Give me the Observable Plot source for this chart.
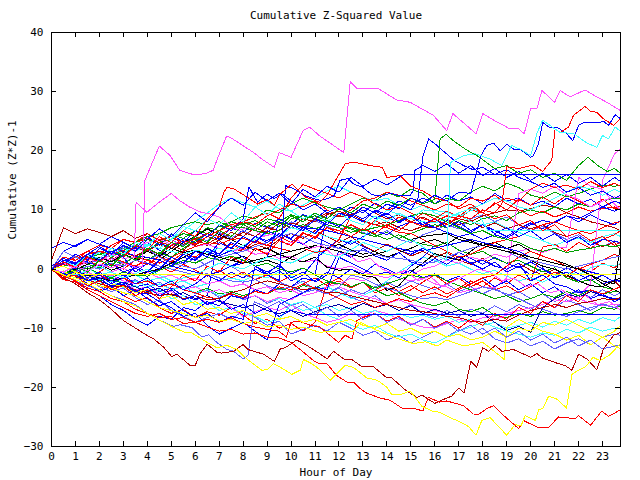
<!DOCTYPE html>
<html><head><meta charset="utf-8">
<script src="https://cdn.jsdelivr.net/npm/d3@7"></script>
<script src="https://cdn.jsdelivr.net/npm/@observablehq/plot@0.6"></script>
<style>body{margin:0;background:#fff} svg{shape-rendering:crispEdges}</style>
</head><body><div id="chart"></div>
<script>
const title = "Cumulative Z-Squared Value";
const xLabel = "Hour of Day";
const yLabel = "Cumulative (Z*Z)-1";
const xTicks = [0,1,2,3,4,5,6,7,8,9,10,11,12,13,14,15,16,17,18,19,20,21,22,23];
const yTicks = [-30,-20,-10,0,10,20,30,40];

// ---- traced series: [hour, value] ----
const magentaTop = [[0,0],[0.5,-0.5],[1,0.5],[1.5,-0.3],[2,0.8],[2.5,0.2],[3,1],[3.5,0.3],[3.8,0.5],[3.9,15],[4.25,18.4],[4.5,20.8],[4.95,19.2],[5.35,16.7],[5.9,16],[6.4,16.1],[6.75,16.7],[6.9,18.4],[7.3,22.4],[7.45,22.3],[8.4,19.8],[8.85,18.4],[9.3,17.2],[9.5,19.7],[10,18.9],[10.5,23.4],[10.77,24],[11.2,22.5],[12.2,19.7],[12.47,31.7],[12.75,30.5],[13.65,30.5],[14.4,28.6],[14.97,28.2],[15.94,26],[16.5,23.4],[16.75,26.3],[17.72,22.9],[18,26.3],[18.45,25.2],[19.14,23.7],[19.5,23.7],[19.73,22.9],[20,27.1],[20.26,27.1],[20.47,30.2],[21,28.2],[21.23,30.2],[21.65,29.1],[22.27,30.3],[22.76,29.1],[23.18,28.2],[23.75,26.8]];
const magentaMid = [[0,0],[0.5,1],[1,0.5],[1.5,1.8],[2,1.2],[2.5,2.5],[3,1.8],[3.45,2],[3.53,11.3],[3.98,9.6],[4.4,11],[5,12.8],[5.34,11.6],[5.76,10.5],[6.25,9.6],[6.6,9.35],[7,8.8],[7.3,7.9],[7.8,6.5],[8.3,7.2],[8.8,5.5],[9.3,6],[9.8,4.2],[10.3,4.8],[10.8,3.5],[11.3,4],[11.8,2.2],[12.3,2.8],[12.8,1.2],[13.3,1.8],[13.8,0],[14.3,-0.8],[14.8,-0.2],[15.3,-2],[15.8,-1.2],[16.3,-3],[16.8,-2],[17.3,-1],[17.8,0],[18.3,-0.5],[18.8,-2],[19.3,-1.5],[19.8,-3],[20.3,-2.5],[20.8,-4],[21.3,-3.5],[21.8,-5],[22.3,-4.5],[22.8,-6],[23.3,-5.5],[23.75,-7]];
const cyanTop = [[0,0],[1,-1],[2,0.5],[3,-1.5],[4,0],[5,-2],[6,-1],[7,1],[8,0],[9,2],[10,1],[11,3],[12,2],[13,4.5],[14,3],[15,5],[16,2.5],[16.5,1.5],[16.65,18],[17.2,19.2],[17.7,19.5],[18.3,18.6],[18.8,17.5],[19.2,20.9],[19.6,20.2],[20,19.2],[20.26,22.9],[20.5,25.2],[20.8,24.3],[21.23,23.1],[21.8,22.9],[22.35,21.3],[22.76,20.6],[23,22.6],[23.25,22],[23.53,24],[23.75,23.3]];
const cyanFlat = [[0,0],[0.5,1.5],[1,0.5],[1.5,2.5],[2,1.8],[2.5,3.5],[3,2.5],[3.5,4.5],[4,3.8],[4.5,6],[5,5],[5.5,7.2],[6,6.5],[6.5,8.5],[7,7.5],[7.5,9.5],[8,8],[8.5,10.5],[9,9.2],[9.5,11],[10,9.8],[10.5,8.5],[11,9.5],[11.5,8],[12,9.5],[12.5,8.2],[13,7.5],[13.5,9],[14,8],[14.5,9.5],[15,8.5],[15.5,10],[16,9.9],[16.5,9.6],[17,8.8],[17.36,9.6],[17.7,10.2],[18.2,6.6],[23.75,6.6]];
const redTopRight = [[0,0],[0.5,-1.5],[1,-1],[1.5,-2.8],[2,-2],[2.5,-3.5],[3,-2.8],[3.5,-4.5],[4,-3.5],[4.5,-5],[5,-3],[5.5,-1],[6,-2],[6.5,0.5],[7,-0.5],[7.5,2],[8,1],[8.5,3.5],[9,2.5],[9.5,4.8],[10,4],[10.5,6],[11,5.5],[11.5,7],[12,6.5],[12.5,5.5],[13,6.8],[13.5,6],[14,7.5],[14.5,6.5],[15,8],[15.5,7.2],[16,8.5],[16.5,7.5],[17,9],[17.5,8.5],[18,10],[18.5,9.5],[18.8,11],[19,17.3],[19.5,17],[20.1,17.6],[20.5,16.5],[20.88,18.4],[21.02,23.7],[21.23,23.1],[21.58,24],[21.79,26],[22.27,27.5],[22.48,26.7],[22.76,26.5],[23.04,25.4],[23.46,24.3],[23.75,25.4]];
const redUpper = [[0,0],[0.5,1.2],[1,0.3],[1.5,2],[2,1.2],[2.5,3],[3,2],[3.5,4],[4,3.2],[4.5,5.5],[5,4.5],[5.5,6.5],[6,5.5],[6.5,8.5],[7,10.5],[7.2,13],[7.32,13.8],[7.6,13.6],[8.15,12.2],[8.6,11],[9,11.8],[9.3,10.8],[9.55,12.7],[10.04,14.4],[10.59,12.2],[11.2,11.3],[11.5,12.5],[11.9,15.3],[12.26,17.8],[12.6,18.1],[13.3,17.5],[13.8,17.2],[14,15.5],[14.55,15.8],[15,14],[15.5,13.2],[16,12],[16.5,11.5],[17,10.2],[17.5,11],[18,9.5],[18.5,8.5],[19,9.2],[19.5,7.5],[20,8.2],[20.5,6.5],[21,7.5],[21.5,5.5],[22,6.2],[22.5,4.8],[23,5.5],[23.5,4],[23.75,4.5]];
const greenTop = [[0,0],[0.5,-1],[1,0.5],[1.5,-0.5],[2,1.5],[2.5,0.5],[3,2.5],[3.5,1.5],[4,3.5],[4.5,2.5],[5,4.5],[5.5,3.8],[6,5.5],[6.5,4.5],[7,6.5],[7.5,5.5],[8,7.5],[8.5,6.5],[9,8],[9.5,7.2],[10,9],[10.5,8],[11,9.5],[11.5,8.5],[12,10.2],[12.5,9.5],[13,11],[13.5,10.2],[14,11.5],[14.5,10.8],[15,12],[15.5,11],[16,11.8],[16.22,22],[16.47,22.8],[16.77,21.7],[17.34,20.1],[17.75,19.2],[18.03,18.4],[18.5,17],[19,17.5],[19.5,16.2],[20,16.8],[20.5,15.5],[21,16.2],[21.5,15],[22,17.5],[22.4,18.9],[22.8,17.5],[23.2,16.5],[23.5,17],[23.75,16.2]];
const blueTopRight = [[0,0],[0.5,1.5],[1,0.8],[1.5,2.5],[2,1.5],[2.5,3],[3,2],[3.5,-0.5],[4,1],[4.5,0],[5,2],[5.5,1],[6,3],[6.5,2],[7,4.5],[7.5,3.5],[8,5.5],[8.5,4.5],[9,6.5],[9.5,5.5],[10,7.5],[10.5,6.5],[11,8.5],[11.5,7.5],[12,9.5],[12.5,8.8],[13,10.5],[13.5,9.5],[14,11],[14.5,10.2],[15,12],[15.5,11.2],[16,12.5],[16.5,11.5],[17,13],[17.5,12.8],[17.93,19.2],[18.17,20.9],[18.45,21.3],[18.73,20],[19,21.1],[19.28,20.3],[19.56,20.3],[20,18.9],[20.12,19.2],[20.33,21.2],[20.5,24.8],[20.8,23.9],[21.1,24],[21.5,22.9],[21.76,21.7],[22,24.3],[22.2,24.7],[22.83,24.7],[23.04,25],[23.25,24.3],[23.53,26.1],[23.75,25.4]];
const bluePeak = [[0,0],[0.5,-1.2],[1,-0.5],[1.5,-2],[2,-1],[2.5,-2.5],[3,-1.5],[3.5,0.5],[4,-0.5],[4.5,1.5],[5,0.5],[5.5,2.5],[6,1.5],[6.5,3.5],[7,2.5],[7.5,4.5],[8,3.5],[8.5,5.5],[9,4.5],[9.5,6],[10,5.2],[10.5,7],[11,6],[11.5,8],[12,7.2],[12.5,9],[13,8],[13.5,10],[14,9.2],[14.5,11],[15,10],[15.3,12],[15.5,19],[15.74,22],[16,21.2],[16.57,19.2],[16.8,18.4],[17.2,17.5],[17.6,16.8],[18,17.2],[18.5,16],[19,16.8],[19.5,15.5],[20,14.8],[20.5,13.8],[21,14.5],[21.5,13],[22,13.8],[22.5,12.5],[23,13.2],[23.5,12],[23.75,12.5]];
const blueMid = [[0,0],[0.5,1],[1,2.5],[1.5,1.5],[2,3.5],[2.5,2.5],[3,4.5],[3.5,3.5],[4,5.5],[4.5,4],[5,6],[5.5,4.5],[6,6.5],[6.5,5.5],[7,7.5],[7.5,6.5],[8,8.5],[8.24,13.9],[8.6,11.3],[9,12.7],[9.28,11.9],[9.63,12.7],[10,11.5],[10.5,10],[11,11],[11.5,9.5],[12,10.5],[12.5,9],[13,10],[13.5,8.5],[14,9.5],[14.5,8],[15,9],[15.5,7.5],[16,8.5],[16.5,7],[17,8],[17.5,6.5],[18,7.5],[18.5,6],[19,7],[19.5,5.5],[20,6.5],[20.5,5],[21,6],[21.5,4.5],[22,5.5],[22.5,4],[23,5],[23.75,4.5]];
const blueJump = [[0,0],[0.5,-0.8],[1,0.2],[1.5,-1.5],[2,-0.5],[2.5,-2],[3,-1],[3.5,-2.5],[4,-1.5],[4.5,-3],[5,-2],[5.5,-3.5],[6,-2.5],[6.5,-1],[7,-2],[7.5,-0.5],[8,-1.5],[8.5,0],[9,-1],[9.5,-1.9],[9.77,14.1],[10.1,13.6],[10.6,12.4],[10.95,11.9],[11.23,11.6],[11.5,11.9],[11.8,12.4],[12.04,15],[12.38,15.3],[12.6,14.4],[13,13.8],[13.36,12.6],[13.77,12.3],[14.12,12.8],[14.55,12.4],[14.96,12.4],[15.1,13.3],[15.17,16.7],[15.5,17.5],[16,16.5],[16.5,17.8],[17,16.2],[17.5,17.5],[18,15.8],[18.5,17],[19,15.5],[19.5,16.5],[20,15],[20.5,16.2],[21,14.8],[21.5,16],[22,14.5],[22.5,15.5],[23,14],[23.5,15.5],[23.75,14.8]];
const darkRedLow = [[0,0],[0.5,-1.5],[1,-2.5],[1.5,-4],[2,-5.2],[2.5,-6.8],[3,-8.7],[3.98,-11.2],[4.26,-11.8],[4.68,-13.2],[5.02,-14.8],[5.23,-14.4],[5.79,-16.3],[6,-16.3],[6.2,-14.3],[6.5,-12.7],[6.9,-14.05],[7.1,-14.2],[7.6,-13.9],[8,-12.75],[8.2,-13.6],[8.85,-14.4],[9.3,-15.6],[9.55,-13.5],[9.75,-13.3],[10.24,-12],[10.65,-12.9],[11.2,-14.3],[11.5,-15.2],[11.77,-13.9],[12.2,-15.2],[12.54,-15.3],[12.95,-16.5],[13.44,-16.5],[14,-18.4],[14.2,-18.4],[14.76,-20.4],[15.25,-21.7],[15.46,-21.3],[16,-22.7],[16.5,-21.8],[16.7,-21.5],[17,-20.1],[17.22,-21],[17.5,-15.6],[17.75,-16.6],[18,-13.3],[18.24,-13.9],[18.52,-12.9],[18.8,-13.9],[19.28,-13.6],[20,-14.9],[20.26,-14.3],[20.47,-15],[21.16,-16],[21.44,-16.3],[21.72,-17.1],[22,-14.4],[22.35,-15.2],[22.76,-17],[23.04,-13.5],[23.46,-11.2],[23.75,-10.7]];
const redLowest = [[0,0],[0.5,-1.2],[1,-2],[1.5,-3.2],[2,-3.8],[2.5,-5],[3,-5.5],[3.5,-6.8],[4,-7.5],[4.5,-8.2],[5,-8],[5.5,-9.2],[6,-9],[6.5,-9.8],[7,-10.5],[7.5,-10.2],[8,-11],[8.5,-10.8],[9,-11.5],[9.4,-11.5],[10,-12.4],[10.5,-14],[10.94,-15.5],[11.2,-16],[11.5,-16],[11.9,-18],[12.33,-19.1],[12.6,-19.1],[12.88,-20.2],[13.16,-21],[13.44,-21.4],[13.72,-21.8],[14.14,-22.2],[14.62,-23.5],[15.1,-23.5],[15.5,-24],[15.73,-21.7],[16.2,-22.5],[16.5,-22.3],[17.2,-23.1],[17.6,-24.5],[17.82,-24.6],[18.17,-23.6],[18.45,-23.1],[18.8,-24.5],[19.14,-25.7],[19.5,-27],[19.7,-25.6],[20,-26.2],[20.33,-26.8],[20.75,-26.8],[21.16,-25],[21.44,-25.1],[21.86,-25.3],[22,-24.8],[22.5,-26.4],[22.97,-24],[23.25,-24.9],[23.75,-23.8]];
const yellowLowest = [[0,0],[0.5,-1],[1,-1.8],[1.5,-2.5],[2,-3.5],[2.5,-4.5],[3,-5.5],[3.5,-6.2],[4,-7.5],[4.54,-8.7],[5.1,-9.9],[5.58,-10.7],[5.86,-10.8],[6.5,-12.4],[6.9,-13.3],[7.32,-12.9],[7.74,-13.6],[8.15,-15.2],[8.78,-17.1],[9,-17],[9.27,-16],[9.68,-16.9],[10.03,-17.8],[10.38,-17.1],[10.52,-15.3],[10.87,-16],[11.2,-17],[11.63,-18.8],[12.26,-16.3],[12.6,-16.6],[13.16,-18.4],[13.6,-18.8],[14,-20],[14.2,-21.2],[14.6,-21.2],[14.97,-20.6],[15.46,-23.2],[15.88,-24],[16.2,-24.2],[16.57,-25],[16.92,-25.6],[17.4,-26.6],[17.72,-28.1],[17.96,-25.6],[18.3,-25.1],[18.66,-26.6],[19,-28.1],[19.35,-26.3],[19.6,-26.5],[19.77,-24.8],[20.2,-25.6],[20.33,-23.8],[20.5,-23.6],[20.75,-21.5],[21.1,-22],[21.5,-23.5],[21.72,-17.8],[22,-17.1],[22.3,-16.5],[22.6,-14.9],[22.9,-15.5],[23.3,-14.5],[23.75,-12.6]];
const slateDip = [[0,0],[0.5,-1],[1,-2],[1.5,-2.8],[2,-3.5],[2.5,-4.5],[3,-5.2],[3.5,-6],[4,-7.5],[4.54,-8.7],[5.09,-9.7],[5.37,-9.4],[5.86,-9.9],[6.28,-11.5],[6.55,-11.1],[6.9,-12.4],[7.32,-13.6],[7.6,-13.9],[8,-15.2],[8.2,-14.6],[8.36,-9.8],[8.46,-5.5],[9,-6.5],[9.5,-5.5],[10,-7],[10.5,-6],[11,-7.5],[11.5,-6.5],[12,-8],[12.5,-7],[13,-8.5],[13.5,-7.5],[14,-9],[14.5,-8.2],[15,-9.5],[15.5,-8.5],[16,-10],[16.5,-9],[17,-10.5],[17.5,-9.5],[18,-11],[18.5,-10],[19,-11.5],[19.5,-10.5],[20,-12],[20.5,-11],[21,-12.5],[21.5,-11.5],[22,-13],[22.5,-12],[23,-13.5],[23.75,-12.8]];
const redJump = [[0,0],[0.5,-1.8],[1,-2.2],[1.5,-3.5],[2,-4.5],[2.5,-5.5],[3,-6.5],[3.5,-7.5],[4,-8],[4.5,-7.5],[5,-8.5],[5.5,-8.2],[6,-9],[6.5,-8.5],[7,-9],[7.5,-8.2],[8,-9.2],[8.5,-9.8],[9,-10.2],[9.5,-10.5],[9.8,-11.5],[10,-9],[10.3,-8.8],[10.8,-9.5],[11.2,-9.8],[11.98,-12.4],[12.26,-11.2],[12.54,-11.8],[12.75,-8.7],[13,-8.2],[13.5,-7.5],[14,-8.8],[14.5,-8],[15,-9.5],[15.5,-8.5],[16,-9.8],[16.5,-8.8],[17,-10],[17.5,-8.5],[18,-9.5],[18.5,-7.5],[19,-8.5],[19.5,-6.5],[20,-7.5],[20.5,-5.5],[21,-6.5],[21.5,-4.5],[22,-5.5],[22.5,-3.5],[23,-4.2],[23.75,-3]];
const yellowLow2 = [[0,0],[0.5,-0.8],[1,-1.5],[1.5,-2],[2,-2.8],[2.5,-3.2],[3,-4],[3.5,-4.5],[4,-5.5],[4.5,-6.5],[5,-7],[5.5,-7.5],[6,-8.2],[6.5,-7.8],[7,-8.8],[7.5,-8.5],[8,-9.2],[8.5,-8.8],[9,-9.8],[9.5,-9.5],[10,-10.2],[10.5,-9.8],[11.2,-10.7],[11.6,-10.5],[12.3,-10.6],[12.6,-10.5],[12.9,-9],[13.5,-10.2],[14.2,-11.4],[15.1,-12.6],[15.6,-12.3],[16.1,-13],[16.5,-12],[17.2,-13],[17.5,-12.8],[18,-12.4],[18.2,-13],[18.9,-15.3],[19,-9.8],[19.5,-8.5],[20,-9.5],[20.5,-10.5],[21,-11],[21.5,-12],[22,-11.2],[22.5,-12.8],[23,-11.5],[23.5,-10.5],[23.75,-9.5]];
const yellowMid = [[0,0],[0.5,0.5],[1,-0.5],[1.5,-1.5],[2,-1],[2.5,-2.5],[3,-3],[3.5,-4],[4,-3.5],[4.5,-5],[5,-4.5],[5.5,-6],[6,-5.5],[6.5,-6.8],[7,-6.5],[7.5,-7.5],[8,-7],[8.5,-8],[9,-7.5],[9.5,-8.5],[10,-8],[10.5,-9],[11,-8.5],[11.5,-9.5],[12,-9],[12.5,-8.5],[13,-9.5],[13.5,-10],[14,-9.2],[14.5,-10.5],[15,-10],[15.5,-11],[16,-10.5],[16.5,-11.5],[17,-11],[17.5,-12],[18,-11.5],[18.5,-10.5],[19,-11.5],[19.5,-10],[20,-10.5],[20.5,-9],[21,-9.5],[21.5,-8.5],[22,-9.5],[22.5,-10.5],[23,-11.5],[23.5,-13],[23.75,-13.5]];
const blueFlatHigh = [[0,0.5],[0.5,1.8],[1,1],[1.5,2.5],[2,3.8],[2.5,2.6],[3,4],[3.5,3],[4,5],[4.5,6.8],[5,5.5],[5.5,7.5],[6,9.5],[6.5,8],[7,10.5],[7.5,12],[8,10.8],[8.5,13],[9,11.5],[9.5,12.8],[10,11],[10.5,13.5],[11,12.2],[11.5,14],[12,13],[12.5,15.5],[13,14],[13.5,15.2],[14,14.2],[14.5,15.5],[14.7,16],[23.75,16]];
const yellowFlat = [[0,0],[0.25,-0.5],[0.5,-0.3],[0.75,-1],[1,-0.6],[1.3,-1],[23.75,-1]];
const blueFlatLow = [[0,0],[0.5,-1],[1,-0.5],[1.5,-2],[2,-1.5],[2.5,-3],[3,-2.2],[3.5,-3.8],[4,-3],[4.5,-4.5],[5,-3.5],[5.5,-5.2],[6,-4.5],[6.5,-6],[7,-5.2],[7.5,-6.8],[8,-6],[8.5,-7.5],[9,-6.5],[9.5,-8],[10,-7],[10.6,-7.6],[23.75,-7.6]];

// ---- tangle series: values every half hour, in 4-hour groups, last value at 23.75 ----
const t01 = [[0,1.2,0.5,2.0,1.5,3.0,2.2,3.8],[3.0,4.5,3.5,5.2,4.5,6.0,5.0,7.0],[6.2,7.8,7.0,8.5,7.5,9.2,8.5,10.0],[9.0,10.5,9.5,11.2,10.0,11.5,10.8,12.0],[11.0,12.5,11.5,12.2,11.0,12.8,11.5,12.0],[10.8,11.5,10.5,12.0,11.0,11.8,10.5,11.5],[11.1]];
const t02 = [[0,-0.8,-0.2,-1.5,-1.0,-2.2,-1.5,-3.0],[-2.5,-3.8,-3.2,-4.5,-5.2,-4.5,6.0,5.2],[6.5,5.5,4.8,6.0,5.0,4.2,5.5,4.5],[3.5,4.8,3.8,3.0,4.2,3.2,2.5,3.5],[2.5,1.5,2.8,1.8,0.8,2.0,1.0,0.2],[1.2,0.0,-1.0,0.2,-0.8,-2.0,-1.0,-2.2],[-1.8]];
const t03 = [[3.5,4.5,3.8,5.0,4.2,5.5,4.5,3.5],[4.5,3.2,2.0,3.0,1.8,2.8,1.5,0.5],[1.5,0.5,-0.5,0.5,-0.8,0.2,-1.0,9.5],[10.5,9.5,8.5,9.8,8.8,7.8,9.0,8.0],[7.0,8.2,7.2,6.2,7.5,6.5,5.5,6.8],[7.8,6.8,8.0,9.0,8.0,9.2,8.2,7.5],[8.2]];
const t04 = [[0,0.8,0.2,1.2,0.5,1.8,1.0,2.2],[1.5,2.5,1.5,0.8,1.8,0.5,-0.5,0.5],[-0.8,-1.8,-0.8,-2.2,-3.0,-2.0,-3.5,-4.2],[-3.2,-4.8,-5.5,-4.5,-6.0,-7.0,-6.0,-7.5],[-8.2,-7.0,-8.0,-6.8,-7.5,-6.2,-7.2,-6.0],[-6.8,-5.5,-6.5,-5.2,-6.0,-7.0,-5.8,-6.5],[-6.0]];
const t05 = [[0,1.0,2.2,1.5,3.0,2.2,3.8,3.0],[4.2,3.5,5.0,4.0,5.5,4.8,6.2,5.2],[6.5,5.5,7.2,6.5,8.0,7.0,8.2,7.2],[6.5,7.5,6.2,5.5,6.5,5.0,4.5,5.8],[6.5,7.5,6.8,8.5,9.2,8.0,8.8,7.5],[6.5,7.2,6.0,5.0,5.8,4.5,3.8,4.8],[4.2]];
const t06 = [[0,-0.5,-1.2,-0.5,-1.8,-1.2,-2.5,-1.8],[-3.0,-2.2,-3.5,-2.8,-4.2,-3.5,-4.8,-4.0],[-5.2,-4.5,-5.8,-5.0,-6.2,-5.5,-6.5,-5.5],[-4.5,-3.5,-4.2,-3.0,-2.2,-3.2,-2.0,-2.8],[-3.5,-2.5,-3.8,-3.0,-4.2,-3.2,-4.5,-3.8],[-5.0,-4.2,-5.5,-4.5,-3.8,-4.8,-3.5,-4.5],[-4.0]];
const t07 = [[0,1.0,0.2,1.5,0.5,2.0,1.2,0.5],[1.5,0.5,-0.5,0.8,-0.2,-1.2,-0.2,-1.5],[-0.5,-1.8,-1.0,-2.2,-1.2,-2.5,-1.5,-2.8],[-2.0,-3.2,-2.2,-3.5,-2.5,-3.8,-2.8,-4.0],[-3.0,-4.2,-3.2,-2.0,-3.0,-1.5,-2.5,-1.0],[-2.0,3.7,4.2,3.0,4.5,3.5,5.0,5.8],[6.5]];
const t08 = [[0,-1.0,-0.2,-1.5,-0.5,0.8,0.0,1.5],[0.8,2.2,1.2,2.8,2.0,3.5,2.5,4.2],[3.2,4.8,4.0,5.5,4.5,6.2,5.2,7.0],[6.0,7.5,6.5,8.2,7.2,8.8,7.8,9.5],[8.5,9.8,8.8,10.5,9.5,11.2,10.0,11.8],[10.8,12.2,11.0,12.5,11.5,10.5,11.8,10.2],[10.7]];
const t09 = [[1.5,7.0,6.0,6.8,6.2,5.5,6.5,5.2],[6.0,4.8,5.5,4.2,5.2,4.0,4.8,3.5],[3.0,4.2,3.5,5.0,6.0,5.2,6.5,5.5],[4.5,5.5,4.0,3.0,4.2,3.2,2.2,3.0],[2.0,2.8,1.5,0.8,1.8,0.5,0.0,1.0],[-0.2,-1.0,0.0,-1.2,-2.0,-1.0,-2.5,-2.0],[-3.0]];
const t10 = [[0,1.5,0.8,2.2,1.5,3.0,2.5,3.5],[3.0,4.2,3.5,4.8,4.0,5.5,4.8,6.2],[5.5,7.0,6.2,7.8,7.0,8.5,8.0,9.2],[9.8,9.0,10.5,9.5,8.5,9.2,8.0,8.8],[7.8,8.5,7.5,8.2,7.0,7.8,6.8,7.5],[6.8,7.5,6.2,5.5,6.2,4.8,3.8,4.5],[3.2]];
const t11 = [[0,0.5,1.2,0.8,2.0,1.5,2.8,2.2],[3.2,2.5,4.0,3.2,4.8,4.2,5.5,5.0],[6.2,5.5,7.0,6.5,7.8,7.2,8.5,9.5],[8.8,9.2,8.2,7.5,8.0,7.0,6.5,7.2],[7.0,7.8,8.5,8.0,9.0,9.5,10.0,9.8],[10.2,10.8,10.5,9.5,8.8,8.0,7.5,7.0],[6.5]];
const t12 = [[0,-1.0,-0.2,0.8,0.2,1.5,0.8,2.2],[1.5,2.8,2.0,3.5,4.8,6.0,7.2,8.0],[7.5,8.2,7.2,8.0,7.0,7.5,6.8,7.5],[7.0,6.2,6.8,5.8,5.0,5.8,4.8,4.2],[3.8,4.5,3.2,2.5,3.0,1.8,1.0,1.5],[0.5,-0.5,0.2,-1.5,-2.2,-1.8,-3.0,-3.5],[-4.0]];
const t13 = [[0,-0.8,-1.5,-1.0,-2.0,-1.5,-2.5,-2.0],[-3.0,-2.5,-3.5,-3.0,-4.0,-3.2,-4.2,-3.8],[-4.5,-3.8,-4.2,-3.2,-3.8,-2.8,-3.2,-2.2],[-2.5,-3.0,-2.2,-3.5,-4.5,-4.0,-5.0,-5.8],[-6.2,-5.5,-6.8,-7.2,-6.5,-7.8,-8.2,-7.5],[-8.0,-7.2,-7.8,-7.5,-7.0,-7.6,-6.5,-6.8],[-6.2]];
const t14 = [[0,1.0,0.5,1.8,2.5,2.0,3.2,4.0],[5.0,4.5,5.8,5.2,6.5,6.0,7.2,6.8],[7.8,7.2,8.5,8.0,9.2,8.5,9.0,8.2],[7.5,6.8,6.0,5.5,6.2,5.2,6.0,6.8],[7.5,7.0,8.2,7.5,8.5,9.0,8.2,9.5],[10.0,9.5,10.5,10.0,11.0,10.5,11.5,12.0],[12.0]];
const t15 = [[0,-0.5,-1.2,-0.8,-1.8,-1.2,-2.5,-2.0],[-3.0,-2.5,-3.5,-3.0,-4.0,-3.5,-4.5,-4.0],[-5.0,-4.5,-5.5,-5.0,-6.0,-5.5,-6.5,-6.0],[-7.0,-6.5,-7.5,-7.0,-8.0,-7.5,-8.2,-7.8],[-8.5,-8.0,-9.0,-8.5,-9.5,-9.0,-10.0,-9.5],[-9.0,-9.8,-8.8,-9.5,-8.5,-9.2,-8.2,-8.8],[-8.0]];
const t16 = [[0,1.0,2.0,1.5,2.8,2.2,3.5,3.0],[4.0,3.5,5.0,6.5,8.0,9.5,11.0,12.0],[11.2,10.5,11.5,10.2,9.8,10.8,12.0,13.2],[14.0,13.0,12.2,11.5,12.0,10.8,10.0,10.8],[9.5,8.8,9.2,8.0,7.5,8.0,7.0,6.2],[5.5,4.8,4.0,4.8,5.2,4.5,5.5,6.0],[5.5]];
const t17 = [[0,0.5,-0.5,0.2,-1.0,-0.5,-1.5,-1.0],[-2.0,-1.5,-2.5,-2.0,-3.0,-2.5,-2.0,-1.5],[-2.0,-1.0,-1.5,-0.5,-1.2,-2.5,-3.5,-3.0],[-4.0,-5.0,-4.5,-3.5,-2.0,-0.5,0.8,2.0],[1.5,0.5,1.0,0.0,-0.8,-0.2,-1.2,-2.0],[-1.5,-2.2,-1.2,-0.5,-1.0,0.2,0.8,0.5],[1.0]];
const t18 = [[0,0.5,1.2,1.0,2.0,1.5,2.5,3.5],[4.5,5.0,4.2,4.8,3.8,4.2,3.5,3.0],[3.5,2.5,2.8,1.8,2.2,1.2,1.5,0.5],[0.0,0.5,-0.5,-1.0,-0.5,-1.5,-2.0,-1.5],[-2.5,-3.0,-4.0,-3.5,-3.0,-3.2,-1.5,12.8],[13.5,12.8,14.0,12.5,11.8,10.5,11.5,12.2],[12.0]];
const t19 = [[0,-0.5,-1.0,-0.5,-1.5,-1.0,-2.0,-2.5],[-2.0,-3.0,-2.5,-3.5,-3.0,-4.0,-3.5,-4.5],[-5.0,-4.5,-5.5,-4.8,-5.2,-4.0,-3.5,-4.2],[-3.0,-3.8,-4.5,-5.0,-5.8,-5.2,-6.0,-6.5],[-7.0,-7.5,-7.0,-8.0,-7.5,-8.5,-7.8,-7.0],[-6.5,-6.0,-5.2,-5.5,-4.5,-2.5,15.0,19.5],[20.3]];
const t20 = [[0,0.8,0.2,1.2,0.5,-0.5,0.2,-1.0],[-0.5,-1.5,-1.0,-2.0,-1.5,-2.5,-2.0,-3.0],[-2.5,-3.5,-3.0,-4.0,-3.5,-4.5,-4.0,-3.0],[-2.5,-1.5,-2.0,-1.0,-1.5,-0.5,-1.0,0.0],[0.5,1.5,1.0,2.0,1.5,2.5,2.0,3.0],[3.5,2.8,3.5,3.7,15.5,14.0,13.5,11.0],[10.0]];
const t21 = [[0,1.0,0.5,0.0,0.8,-0.2,0.5,1.5],[2.0,1.5,3.0,4.5,5.5,6.8,5.8,5.0],[4.0,3.2,3.5,2.5,1.7,1.2,2.0,0.3],[-0.2,0.0,-1.1,-1.4,-3.6,-2.8,-0.5,1.0],[2.6,2.0,1.5,3.0,4.5,3.8,3.5,4.2],[3.0,2.2,1.5,0.8,0.0,-1.0,-2.0,-2.5],[4.0]];
const t22 = [[0,-0.8,0.0,0.8,2.0,1.2,2.5,1.8],[3.0,2.2,3.5,2.8,3.2,2.5,2.0,1.5],[2.2,1.0,1.5,0.8,2.0,3.0,4.0,3.5],[4.2,3.2,2.5,3.0,2.0,2.8,3.5,4.5],[5.0,4.2,5.5,4.8,4.0,4.5,3.5,2.5],[1.5,0.5,0.0,-1.0,-2.0,-2.8,-3.0,-2.0],[-1.5]];
const t23 = [[0,-0.8,-1.5,-1.0,-2.0,-2.8,-2.2,-3.0],[-3.8,-3.2,-4.5,-4.0,-5.0,-4.5,-5.5,-6.0],[-6.5,-6.0,-7.0,-7.5,-7.0,-8.0,-7.2,-6.5],[-6.0,-6.8,-5.8,-6.5,-6.0,-7.0,-6.2,-7.5],[-6.8,-7.5,-7.0,-8.0,-7.5,-9.0,-10.4,-9.7],[-10.7,-6.5,-5.0,-4.2,-4.8,-3.8,-4.5,-5.2],[-5.0]];
const t24 = [[0,-1.0,-2.0,-3.5,-4.5,-6.0,-7.0,-8.5],[-9.5,-8.0,-8.5,-6.5,-7.0,-5.5,-6.2,-4.5],[-5.0,-3.5,-4.2,-2.5,-3.0,-1.5,-2.0,-0.5],[-1.5,0.0,-0.8,0.8,0.0,-1.0,-0.2,-1.5],[-0.8,-2.0,-1.2,-2.5,-1.5,-3.0,-2.0,-3.5],[-2.5,-4.0,-3.0,-4.5,-3.5,-5.0,-4.2,-5.5],[-5.0]];
const t25 = [[0,1.0,2.0,1.2,0.5,1.0,-0.5,0.2],[-1.0,0.0,1.0,2.0,1.5,3.0,2.2,3.2],[2.0,0.5,-1.0,-0.2,-2.0,-1.0,1.5,3.5],[5.0,4.2,5.5,6.5,5.8,7.2,8.0,7.5],[7.0,6.2,5.5,6.0,5.0,5.8,5.2,6.5],[7.5,8.2,7.8,9.0,8.5,9.5,10.5,9.8],[10.2]];
const t26 = [[0,-1.0,-0.5,-1.5,-1.0,-2.0,-1.5,-2.5],[-2.0,-3.0,-2.5,-3.5,-4.0,-4.8,-5.0,-4.2],[-4.8,-3.8,-4.2,-3.0,-3.5,-2.5,-3.2,-4.0],[-5.0,-6.0,-5.5,-6.5,-5.8,-5.0,-5.5,-4.5],[-4.0,-4.8,-3.5,-2.5,-1.5,-1.0,0.5,2.0],[3.0,2.2,1.5,0.5,0.0,0.8,1.5,2.5],[2.0]];
const t27 = [[0,1.0,2.0,3.0,2.5,4.0,5.0,4.5],[5.2,4.5,4.0,4.8,4.2,5.5,6.5,7.5],[8.0,8.8,9.5,8.5,12.0,14.3,13.5,12.8],[12.0,13.0,12.2,11.0,10.0,10.5,9.5,8.5],[8.0,9.0,8.5,10.0,9.5,11.0,12.0,11.5],[13.5,14.5,13.8,14.2,13.5,14.8,13.8,14.5],[14.0]];
const t28 = [[0,0.5,-0.5,0.2,-0.8,-1.5,-0.5,-1.0],[-1.2,-0.2,0.5,1.5,1.0,2.0,1.5,2.2],[1.5,0.5,1.0,0.0,-0.5,0.2,-1.0,-2.0],[-2.5,-3.0,-2.2,-3.2,-2.5,-1.8,-1.0,-1.5],[-1.0,-2.0,-2.8,-3.5,-4.2,-5.0,-4.5,-5.5],[-5.0,-4.2,-4.8,-3.8,-4.5,-3.5,-4.2,-3.8],[-3.9]];
const t29 = [[0,-1.0,-0.5,0.5,0.0,1.0,0.5,1.5],[1.0,0.5,0.0,-0.5,-1.0,-0.8,-1.5,-2.0],[-2.2,-1.8,-2.8,-3.5,-3.0,-4.0,-3.5,-4.2],[-3.0,-1.0,-1.5,-2.5,-3.2,-3.8,-4.5,-5.0],[-4.8,-5.2,-4.5,-3.8,-3.0,-3.5,-4.2,-5.0],[-6.0,-6.8,-7.5,-8.0,-7.2,-6.5,-6.0,-6.5],[-6.0]];
const t30 = [[0,1.5,1.0,2.0,2.8,2.2,3.5,4.0],[4.2,3.5,3.0,2.5,3.2,2.8,3.5,3.0],[4.0,5.0,6.0,5.5,7.0,6.5,6.0,5.5],[5.0,4.5,5.2,8.0,10.0,9.2,8.5,8.0],[7.8,8.5,9.5,10.2,11.0,12.0,11.5,10.5],[10.0,11.0,12.0,13.0,14.0,13.5,12.5,13.5],[13.0]];
const t31 = [[0,-0.5,-1.2,-1.8,-2.5,-3.0,-2.8,-3.5],[-4.0,-4.5,-4.2,-5.0,-4.5,-5.2,-5.0,-4.0],[-3.5,-2.5,-2.0,-2.5,-3.0,-3.5,-3.2,-4.0],[-4.0,-4.5,-5.0,-5.5,-6.0,-6.5,-7.0,-7.2],[-7.5,-8.0,-8.2,-8.8,-9.0,-8.5,-8.8,-7.8],[-7.0,-6.5,-6.0,-6.5,-5.8,-5.5,-5.0,-5.2],[-4.8]];
const t32 = [[0,0.8,1.5,2.5,3.0,2.5,3.2,2.0],[1.5,1.0,2.0,3.0,3.8,4.5,4.2,5.0],[5.2,4.5,4.0,3.5,3.0,3.5,2.8,3.2],[5.0,9.0,8.0,7.5,7.0,6.2,6.0,5.0],[4.0,3.0,2.0,2.5,3.5,4.5,5.0,5.5],[6.5,7.5,8.0,7.2,6.5,6.0,7.0,7.8],[8.0]];
const t33 = [[0,3.0,4.0,5.0,4.2,3.5,3.0,2.2],[2.0,1.5,0.5,0.0,-0.5,-1.0,-0.5,0.5],[1.0,1.5,2.0,8.0,7.5,7.0,6.8,6.5],[6.0,5.5,5.0,4.5,4.0,3.5,3.0,3.2],[3.5,4.0,4.5,5.0,4.5,4.0,3.5,3.0],[2.0,1.5,1.0,0.5,0.0,-0.5,-1.0,-0.8],[-1.0]];
const t34 = [[0,0.5,1.0,1.8,2.5,3.0,3.5,4.5],[5.5,6.0,7.0,7.5,8.0,7.5,8.0,7.2],[7.0,6.5,6.0,6.5,8.5,9.0,8.5,8.0],[7.5,7.0,6.5,7.0,7.5,8.2,9.0,9.5],[9.0,8.0,7.0,6.0,6.5,5.5,5.0,4.5],[3.5,3.0,3.5,2.8,3.2,3.5,4.0,3.8],[4.0]];
const t35 = [[0,3.0,2.0,1.0,1.5,2.5,3.5,4.0],[3.5,2.0,1.0,0.5,0.0,1.0,2.0,2.5],[3.0,3.8,4.5,5.5,6.0,5.5,4.5,4.0],[3.5,3.0,3.2,2.5,2.0,1.8,1.5,1.0],[1.2,2.0,2.8,3.5,4.0,3.5,3.0,2.0],[1.5,1.0,0.5,0.0,0.5,1.0,1.5,2.0],[2.2]];
const t36 = [[0,0.5,-0.5,-1.0,-1.5,-2.0,-1.5,-1.0],[-0.5,0.0,1.0,2.0,3.0,2.5,2.0,1.5],[1.0,1.5,2.0,2.5,3.0,3.5,4.0,3.5],[3.0,2.5,2.0,2.5,3.0,4.0,5.0,5.5],[5.8,6.0,5.0,4.5,4.0,3.5,3.0,2.5],[2.0,1.5,1.0,0.5,0.0,-1.0,-2.5,-3.5],[-4.0]];
const t37 = [[0,-1.5,-1.0,-2.8,-3.5,-2.8,-4.5,-5.5],[-4.8,-6.5,-7.5,-6.8,-8.2,-7.2,-7.8,-6.5],[-7.8,-9.2,-8.5,-10.0,-9.2,-10.5,-9.0,-2.5],[-1.5,-3.0,-2.2,-4.0,-3.2,-4.5,-3.5,-2.2],[-1.0,-2.5,-1.5,-3.0,-2.0,-3.5,-2.8,-4.0],[-3.0,-1.8,-0.5,-1.2,0.2,-0.5,1.0,0.2],[1.0]];
const t38 = [[0,-1.5,-0.8,-2.5,-3.8,-3.0,-4.5,-3.5],[-5.0,-6.2,-5.5,-7.0,-8.2,-7.5,-9.0,-8.0],[-8.5,0.5,-0.8,0.8,-1.5,-0.5,-2.2,-1.0],[3.0,2.0,3.5,2.2,1.5,2.8,1.2,0.5],[1.8,0.8,2.2,1.0,0.0,1.2,-0.5,0.5],[-1.0,0.2,-1.5,-0.5,-2.0,-1.0,-2.5,-1.8],[-2.2]];
const t39 = [[0,-1.2,-2.0,-1.5,-3.0,-3.8,-3.2,-4.8],[-6.0,-5.2,-7.0,-8.0,-9.0,-8.2,-7.5,-8.5],[-7.0,-8.2,-9.5,-8.8,-11.0,-10.2,-9.5,-10.5],[-9.0,-10.0,-11.2,-10.5,-12.0,-11.2,-12.5,-11.5],[-10.5,-11.5,-10.2,-11.0,-10.0,-11.8,-12.5,-11.8],[-13.0,-12.2,-13.5,-12.5,-11.8,-12.8,-11.5,-11.0],[-11.2]];
const t40 = [[0,-0.8,-1.5,-1.0,-2.5,-2.0,-3.2,-2.8],[-4.0,-3.5,-5.0,-4.5,-6.0,-5.5,-7.0,-6.5],[-7.5,-8.0,-9.0,-8.5,-6.0,-7.0,-6.5,-7.8],[-8.5,-9.5,-10.2,-9.5,-10.8,-11.5,-11.0,-12.0],[-12.5,-11.5,-10.5,-9.8,-9.0,-9.8,-10.5,-11.0],[-11.5,-10.8,-11.2,-10.2,-10.8,-9.8,-10.5,-10.0],[-10.0]];
const t41 = [[0,-1.0,-0.5,-2.0,-1.5,-3.0,-2.2,-3.5],[-3.0,-4.2,-3.8,-5.0,-4.5,-5.8,-5.2,-6.5],[-8.0,-7.2,-6.5,-7.0,-6.0,-7.5,-8.2,-9.0],[-8.5,-7.5,-8.0,-7.0,-7.5,-8.5,-9.2,-9.8],[-10.0,-9.2,-8.5,-9.0,-8.2,-8.0,-7.5,-7.0],[-6.5,-6.0,-5.2,-5.5,-5.0,-5.8,-6.2,-6.0],[-6.0]];
const t42 = [[0,1.0,0.5,2.0,1.5,3.0,2.5,3.8],[3.2,4.5,5.0,6.0,5.5,7.0,6.5,8.0],[9.0,8.5,10.0,9.5,11.0,12.0,11.2,10.5],[10.0,11.0,12.0,11.5,13.0,12.2,13.5,12.8],[11.0,12.0,11.5,13.0,14.0,13.2,14.5,13.8],[12.5,12.0,13.0,12.2,12.8,13.5,14.2,14.0],[14.2]];
const t43 = [[0,2.0,1.5,3.0,4.0,3.5,5.0,4.5],[6.0,5.0,5.5,4.5,5.0,6.0,5.5,7.0],[8.0,7.5,9.0,10.0,11.0,10.5,11.5,10.0],[9.0,10.0,11.5,12.0,13.0,12.5,11.5,10.8],[10.0,11.0,10.5,12.0,11.5,12.5,11.0,10.0],[9.0,9.8,8.8,9.5,10.5,9.8,10.2,10.5],[10.0]];
const t44 = [[0,-0.5,-1.2,-2.0,-1.5,-3.0,-2.5,-4.0],[-4.2,-5.5,-6.5,-8.0,-7.5,-9.5,-11.0,-10.0],[-9.0,-10.5,-12.0,-6.0,-5.0,-4.0,-3.0,-3.5],[2.0,1.0,0.0,-1.0,-0.5,-1.5,0.5,2.0],[4.0,3.0,2.0,1.0,1.5,0.5,0.0,1.0],[-2.0,-1.0,-2.5,-3.0,-4.0,-3.5,-4.5,-5.0],[-5.0]];

const tangleSeries = [t01,t02,t37,t03,t04,t39,t05,t06,t07,t40,t08,t09,t10,t11,t41,t12,t13,t14,t42,t15,t16,t17,t18,t43,t19,t20,t21,t22,t23,t44,t24,t25,t26,t27,t28,t29,t30,t38,t31,t32,t33,t34,t35,t36];
const tangleColorKeys = ["blue","blue","red","blue","slate","slate","slate","slate","red","cyan","red","darkred","darkred","darkred","magenta","green","green","green","green","cyan","cyan","cyan","magenta","red","magenta","magenta","black","black","navy","blue","blue","blue","red","red","green","slate","cyan","blue","darkred","red","blue","green","slate","black"];
const tracedSeries = [magentaMid,redJump,yellowMid,yellowLow2,slateDip,blueMid,blueJump,bluePeak,cyanFlat,redUpper,greenTop,blueTopRight,redTopRight,cyanTop,blueFlatLow,blueFlatHigh,darkRedLow,redLowest,yellowLowest,yellowFlat,magentaTop];
const tracedColorKeys = ["magenta","red","yellow","yellow","slate","blue","blue","blue","cyan","red","green","blue","red","cyan","blue","blue","darkred","red","yellow","yellow","magenta"];

const palette = {red:"#ff0000", darkred:"#b00000", green:"#00a000", blue:"#0000ff", slate:"#6060ff", magenta:"#ff50ff", cyan:"#40ffff", yellow:"#ffff00", black:"#000000", navy:"#0000a0"};

function gridPoints(groups) {
  const pts = [];
  groups.forEach((g, k) => g.forEach((v, j) => pts.push(k < 6 ? [4 * k + 0.5 * j, v] : [23.75, v])));
  return pts;
}

const lineMarks = [];
tangleSeries.forEach((s, i) => lineMarks.push(Plot.line(gridPoints(s), {x: d => d[0], y: d => d[1], stroke: palette[tangleColorKeys[i]], strokeWidth: 1})));
tracedSeries.forEach((s, i) => lineMarks.push(Plot.line(s, {x: d => d[0], y: d => d[1], stroke: palette[tracedColorKeys[i]], strokeWidth: 1})));

const chart = Plot.plot({
  width: 640, height: 480,
  marginLeft: 51, marginRight: 20, marginTop: 32, marginBottom: 34,
  style: {fontFamily: "'DejaVu Sans Mono', monospace", fontSize: "11px", background: "white", color: "black", overflow: "visible"},
  x: {domain: [0, 23.75]},
  y: {domain: [-30, 40]},
  marks: [
    ...lineMarks,
    Plot.frame({stroke: "black"}),
    Plot.ruleX(xTicks, {x: d => d, insetTop: 409, stroke: "black"}),
    Plot.ruleX(xTicks, {x: d => d, insetBottom: 409, stroke: "black"}),
    Plot.ruleY(yTicks, {y: d => d, insetRight: 564, stroke: "black"}),
    Plot.ruleY(yTicks, {y: d => d, insetLeft: 564, stroke: "black"}),
    Plot.axisX(xTicks, {tickSize: 0, tickPadding: 6, label: null}),
    Plot.axisY(yTicks, {tickSize: 0, tickPadding: 8, label: null}),
    Plot.text([title], {frameAnchor: "top", dy: -21, fontSize: 11}),
    Plot.text([xLabel], {frameAnchor: "bottom", dy: 29, fontSize: 11}),
    Plot.text([yLabel], {frameAnchor: "left", dx: -39, rotate: -90, fontSize: 11})
  ]
});
document.getElementById("chart").appendChild(chart);
</script>
</body></html>
